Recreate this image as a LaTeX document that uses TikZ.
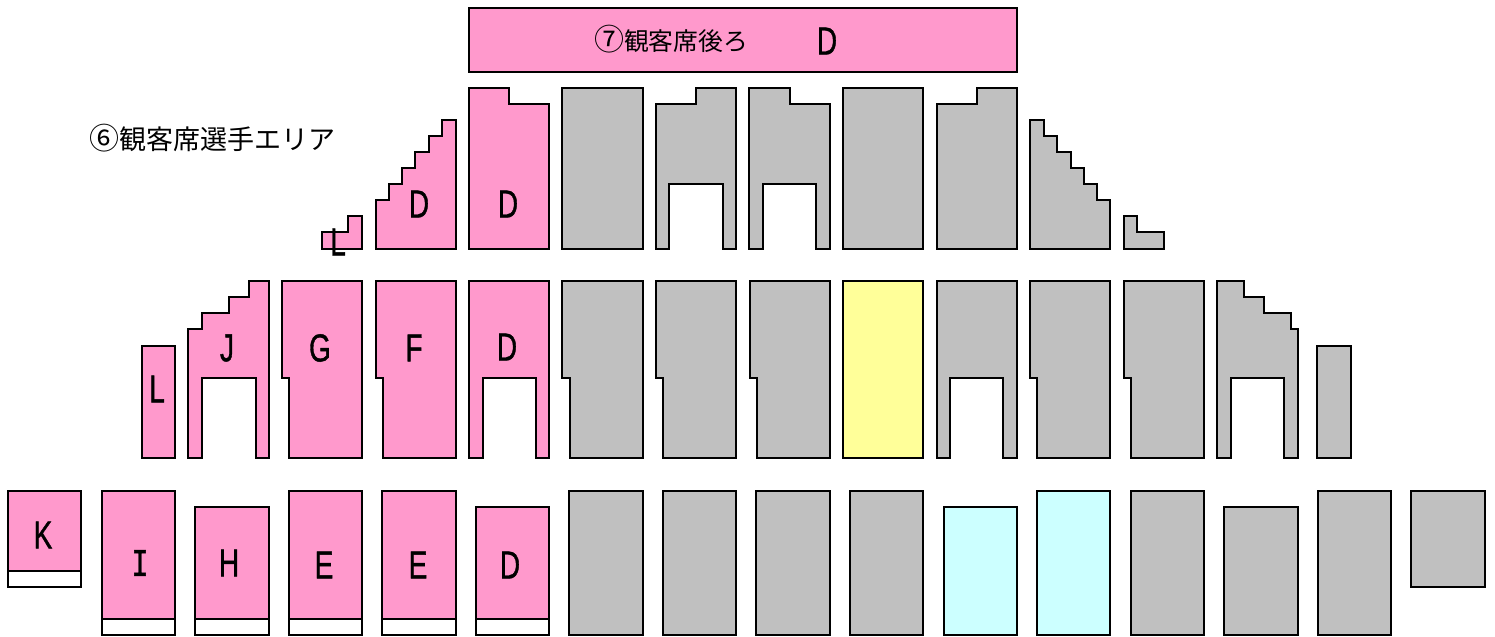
\documentclass[tikz,border=0pt]{standalone}
\usepackage{fontspec}
\setmainfont{Liberation Sans}[FakeBold=1.2]
\newfontfamily\jpfont{Noto Sans CJK JP}
\newfontfamily\serifletter{Liberation Mono}[FakeBold=1.2]
\definecolor{seatpink}{HTML}{FF99CC}
\definecolor{seatgray}{HTML}{C0C0C0}
\definecolor{seatyellow}{HTML}{FFFF99}
\definecolor{seatcyan}{HTML}{CCFFFF}
\newcommand{\circnum}[1]{{\fontsize{15pt}{15pt}\selectfont #1}}
\tikzset{
  seat/.style={draw=black,line width=1.2pt,line join=miter},
  pinkseat/.style={seat,fill=seatpink},
  grayseat/.style={seat,fill=seatgray},
  yellowseat/.style={seat,fill=seatyellow},
  cyanseat/.style={seat,fill=seatcyan},
  whiteband/.style={seat,fill=white},
  letter/.style={inner sep=0pt,font=\fontsize{19.5pt}{20pt}\selectfont,xscale=.72,transform shape},
  jplabel/.style={inner sep=0pt,font=\jpfont\fontsize{12.4pt}{14pt}\selectfont},
  jplabelb/.style={inner sep=0pt,font=\jpfont\fontsize{13.5pt}{15pt}\selectfont},
}
\begin{document}
\begin{tikzpicture}[x=0.5pt,y=-0.5pt]
\useasboundingbox (0,0) rectangle (1495,637);
% top block
\draw[pinkseat] (469,8) rectangle (1017,72);
% row 2
\draw[pinkseat] (322,249)--(322,232)--(348,232)--(348,216)--(362,216)--(362,249)--cycle;
\draw[pinkseat] (376,249)--(376,200)--(389,200)--(389,184)--(402,184)--(402,168)--(415,168)--(415,152)--(429,152)--(429,136)--(442,136)--(442,120)--(456,120)--(456,249)--cycle;
\draw[pinkseat] (469,249)--(469,88)--(509,88)--(509,104)--(549,104)--(549,249)--cycle;
\draw[grayseat] (562,88) rectangle (643,249);
\draw[grayseat] (656,249)--(656,104)--(696,104)--(696,88)--(736,88)--(736,249)--(723,249)--(723,184)--(669,184)--(669,249)--cycle;
\draw[grayseat] (749,249)--(749,88)--(790,88)--(790,104)--(830,104)--(830,249)--(816,249)--(816,184)--(763,184)--(763,249)--cycle;
\draw[grayseat] (843,88) rectangle (923,249);
\draw[grayseat] (937,249)--(937,104)--(977,104)--(977,88)--(1017,88)--(1017,249)--cycle;
\draw[grayseat] (1030,249)--(1030,120)--(1044,120)--(1044,136)--(1057,136)--(1057,152)--(1071,152)--(1071,168)--(1084,168)--(1084,184)--(1097,184)--(1097,200)--(1110,200)--(1110,249)--cycle;
\draw[grayseat] (1124,249)--(1124,216)--(1137,216)--(1137,232)--(1164,232)--(1164,249)--cycle;
% row 3
\draw[pinkseat] (142,346) rectangle (175,458);
\draw[pinkseat] (188,458)--(188,329)--(202,329)--(202,313)--(229,313)--(229,297)--(249,297)--(249,281)--(269,281)--(269,458)--(256,458)--(256,378)--(202,378)--(202,458)--cycle;
\draw[pinkseat] (282,281)--(362,281)--(362,458)--(289,458)--(289,378)--(282,378)--cycle;
\draw[pinkseat] (376,281)--(456,281)--(456,458)--(383,458)--(383,378)--(376,378)--cycle;
\draw[pinkseat] (469,458)--(469,281)--(549,281)--(549,458)--(536,458)--(536,378)--(483,378)--(483,458)--cycle;
\draw[grayseat] (562,281)--(643,281)--(643,458)--(570,458)--(570,378)--(562,378)--cycle;
\draw[grayseat] (656,281)--(736,281)--(736,458)--(663,458)--(663,378)--(656,378)--cycle;
\draw[grayseat] (750,281)--(830,281)--(830,458)--(757,458)--(757,378)--(750,378)--cycle;
\draw[yellowseat] (843,281) rectangle (923,458);
\draw[grayseat] (937,458)--(937,281)--(1017,281)--(1017,458)--(1003,458)--(1003,378)--(950,378)--(950,458)--cycle;
\draw[grayseat] (1030,281)--(1110,281)--(1110,458)--(1037,458)--(1037,378)--(1030,378)--cycle;
\draw[grayseat] (1124,281)--(1204,281)--(1204,458)--(1131,458)--(1131,378)--(1124,378)--cycle;
\draw[grayseat] (1217,458)--(1217,281)--(1244,281)--(1244,297)--(1264,297)--(1264,313)--(1291,313)--(1291,329)--(1298,329)--(1298,458)--(1284,458)--(1284,378)--(1231,378)--(1231,458)--cycle;
\draw[grayseat] (1317,346) rectangle (1351,458);
% row 4
\draw[whiteband] (8,571) rectangle (81,587);
\draw[pinkseat] (8,491) rectangle (81,571);
\draw[whiteband] (102,619) rectangle (175,635);
\draw[pinkseat] (102,491) rectangle (175,619);
\draw[whiteband] (195,619) rectangle (269,635);
\draw[pinkseat] (195,507) rectangle (269,619);
\draw[whiteband] (289,619) rectangle (362,635);
\draw[pinkseat] (289,491) rectangle (362,619);
\draw[whiteband] (382,619) rectangle (456,635);
\draw[pinkseat] (382,491) rectangle (456,619);
\draw[whiteband] (476,619) rectangle (549,635);
\draw[pinkseat] (476,507) rectangle (549,619);
\draw[grayseat] (569,491) rectangle (643,635);
\draw[grayseat] (663,491) rectangle (736,635);
\draw[grayseat] (756,491) rectangle (830,635);
\draw[grayseat] (850,491) rectangle (923,635);
\draw[cyanseat] (944,507) rectangle (1017,635);
\draw[cyanseat] (1037,491) rectangle (1110,635);
\draw[grayseat] (1131,491) rectangle (1204,635);
\draw[grayseat] (1224,507) rectangle (1298,635);
\draw[grayseat] (1318,491) rectangle (1391,635);
\draw[grayseat] (1411,491) rectangle (1485,587);
% labels
\node[jplabel] (back) at (671,39) {\circnum{⑦}観客席後ろ};
\node[jplabelb] (area) at (213,138) {\circnum{⑥}観客席選手エリア};
\node[letter] (dtop) at (827,41) {D};
\node[letter] (lsmall) at (338,242) {L};
\node[letter] (dstair) at (419,204) {D};
\node[letter] (dtwo) at (508,204) {D};
\node[letter] (lrow) at (157,389) {L};
\node[letter] (j) at (227,348) {J};
\node[letter] (g) at (320,348) {G};
\node[letter] (f) at (414,348) {F};
\node[letter] (dthree) at (507,347) {D};
\node[letter] (k) at (43,535) {K};
\node[letter,font=\serifletter\fontsize{19.5pt}{20pt}\selectfont] (i) at (140,563) {I};
\node[letter] (h) at (229,563) {H};
\node[letter] (e) at (324,565) {E};
\node[letter] (etwo) at (418,565) {E};
\node[letter] (dfour) at (510,565) {D};
\end{tikzpicture}
\end{document}
